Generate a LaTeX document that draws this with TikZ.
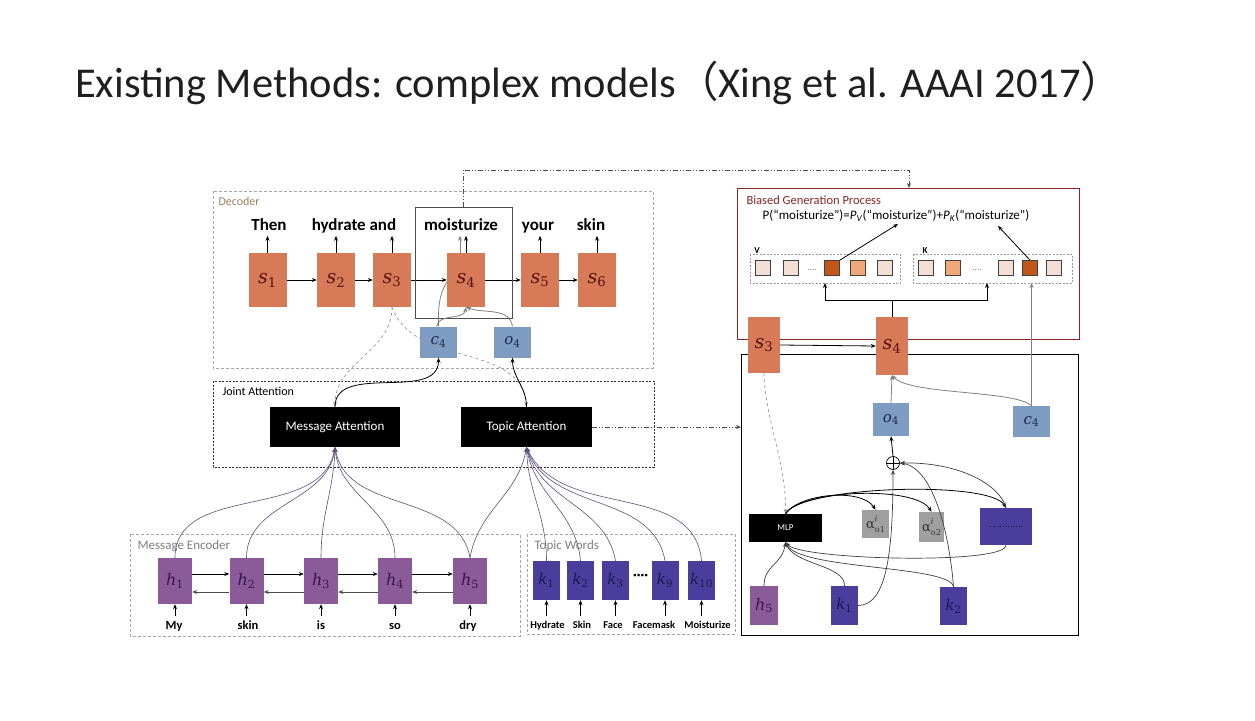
\documentclass[tikz,border=0pt]{standalone}
\usepackage{fontspec}
\setmainfont{Carlito}
\newfontfamily\cjk{Noto Sans CJK SC}
\newfontfamily\lblf{DejaVu Serif}
\newcommand{\lb}[2]{{\lblf\itshape #1}\textsubscript{\lblf #2}}
\newcommand{\alab}[1]{{\lblf α}\rlap{\raisebox{0.55em}{\lblf\itshape\fontsize{8}{8}\selectfont i}}\raisebox{-0.25em}{\lblf\fontsize{8}{8}\selectfont o#1}}
\usetikzlibrary{arrows.meta,calc}
\definecolor{orgc}{HTML}{D77A57}
\definecolor{sred}{HTML}{5A1212}
\definecolor{purc}{HTML}{8A5B98}
\definecolor{hpur}{HTML}{3A1450}
\definecolor{indc}{HTML}{4B3D9B}
\definecolor{knav}{HTML}{1A1A55}
\definecolor{bgc}{HTML}{7E9CC2}
\definecolor{cnav}{HTML}{1A2A50}
\definecolor{darkred}{HTML}{8B2525}
\definecolor{lsq}{HTML}{F3DED6}
\definecolor{msq}{HTML}{F0A878}
\definecolor{dsq}{HTML}{C0561A}
\definecolor{curvec}{HTML}{5E5080}
\begin{document}
\begin{tikzpicture}[x=1pt,y=-1pt,
  tip/.style={-{Stealth[length=5pt,width=4pt]}},
  sbox/.style={fill=orgc,inner sep=0,minimum width=38pt,minimum height=54pt,text=sred,font=\fontsize{19}{19}\selectfont},
  hbox/.style={fill=purc,inner sep=0,minimum width=34pt,minimum height=46pt,text=hpur,font=\fontsize{16}{16}\selectfont},
  kbox/.style={fill=indc,inner sep=0,minimum width=27pt,minimum height=39pt,text=knav,font=\fontsize{15}{15}\selectfont},
  cbox/.style={fill=bgc,inner sep=0,minimum width=37pt,minimum height=31pt,text=cnav,font=\fontsize{15}{15}\selectfont},
  attbox/.style={fill=black,inner sep=0,minimum width=130pt,minimum height=40pt,text=white,font=\fontsize{13}{13}\selectfont},
  dword/.style={anchor=base,font=\bfseries\fontsize{17}{17}\selectfont,text=black},
  eword/.style={anchor=base,font=\bfseries\fontsize{12.5}{12.5}\selectfont,text=black},
  tword/.style={anchor=base,inner sep=0,font=\bfseries\fontsize{10.5}{10.5}\selectfont,text=black},
  grouplbl/.style={anchor=west,font=\fontsize{13}{13}\selectfont},
  sq/.style={draw=black!75,line width=0.6pt,minimum size=15pt,inner sep=0},
  blk/.style={black,line width=0.8pt},
  gry/.style={gray,line width=0.8pt},
  cur/.style={curvec,line width=0.6pt},
  thin/.style={black!75,line width=0.7pt},
  alphabox/.style={fill=gray!75,inner sep=0,text=black!80,font=\fontsize{13}{13}\selectfont},
  ddash/.style={black!70,line width=0.7pt,dash pattern=on 5pt off 2pt on 1pt off 2pt on 1pt off 2pt}
]
\useasboundingbox (0,0) rectangle (1255,720);
\fill[white] (0,0) rectangle (1255,720);

% Title
\node[anchor=base west,inner sep=0,font=\fontsize{42.5}{42.5}\selectfont,text=black!88] (title) at (75,97)
  {Existing Methods: complex models{\cjk （}Xing et al. AAAI 2017{\cjk ）}};

% ---------------- Decoder ----------------
\draw[gray!70,line width=0.6pt,dash pattern=on 3pt off 2pt] (213,191) rectangle (653,368);
\node[grouplbl,text=brown!50!gray,font=\fontsize{12}{12}\selectfont] (declbl) at (215,201) {Decoder};

\node[sbox] (s1) at (267.5,280) {\lb{s}{1}};
\node[sbox] (s2) at (336,280) {\lb{s}{2}};
\node[sbox] (s3) at (392,280) {\lb{s}{3}};
\node[sbox] (s4) at (466,280) {\lb{s}{4}};
\node[sbox] (s5) at (540,280) {\lb{s}{5}};
\node[sbox] (s6) at (597,280) {\lb{s}{6}};

\node[dword] (w1) at (269,230) {Then};
\node[dword] (w2) at (354,230) {hydrate and};
\node[dword] (w4) at (461,230) {moisturize};
\node[dword] (w5) at (538,230) {your};
\node[dword] (w6) at (591,230) {skin};

\foreach \n in {s1,s2,s3,s5,s6}{
  \draw[blk,tip] (\n.north) -- ++(0,-17);
}
\draw[blk,tip] (s4.north) -- ++(0,-17);
\draw[gry,tip] ([xshift=-6pt]s4.north) -- ++(0,-17);

\foreach \a/\b in {s1/s2,s2/s3,s3/s4,s4/s5,s5/s6}{
  \draw[blk,tip] (\a.east) -- (\b.west);
}

\draw[black!70,line width=0.8pt] (415,207) rectangle (512,318);
\coordinate (hltop) at (463,207);

\node[cbox] (c4) at (438.5,342) {\lb{c}{4}};
\node[cbox] (o4) at (512.5,342) {\lb{o}{4}};

\draw[gry] (c4.north) to[out=90,in=-120] ([yshift=-2pt]s4.west);
\draw[gry,tip] ([xshift=-2pt]c4.north) to[out=80,in=-100] (s4.south);
\draw[gry,tip] (o4.north) to[out=100,in=-20] (s4.south);

% dash-dot to biased generation
\coordinate (bgtop) at (909,188);
\draw[ddash,tip] (hltop) -- (463,170) -- (909,170) -- (bgtop);

% ---------------- Joint attention ----------------
\draw[black!80,line width=0.6pt,dash pattern=on 2pt off 1.5pt] (213,381) rectangle (654,467);
\node[grouplbl,text=black,font=\fontsize{12}{12}\selectfont] (jalbl) at (219,391) {Joint Attention};
\node[attbox] (ma) at (335,427) {Message Attention};
\node[attbox,minimum width=131pt] (ta) at (526.5,427) {Topic Attention};

\draw[gray!80,line width=0.7pt,dashed,tip] (s3.south) to[out=-90,in=90] (ma.north);
\draw[gray!80,line width=0.7pt,dashed,tip] (s3.south) to[out=-70,in=95] (ta.north);
\draw[blk,tip] (ma.north) to[out=90,in=-90] (c4.south);
\draw[blk,tip] (ta.north) to[out=90,in=-90] (o4.south);

% ---------------- Message encoder ----------------
\draw[gray!70,line width=0.6pt,dash pattern=on 3pt off 2pt] (130,534) rectangle (520,636);
\node[grouplbl,text=gray] (melbl) at (134,546) {Message Encoder};

\node[hbox] (h1) at (175,581) {\lb{h}{1}};
\node[hbox] (h2) at (246.5,581) {\lb{h}{2}};
\node[hbox] (h3) at (321,581) {\lb{h}{3}};
\node[hbox] (h4) at (395,581) {\lb{h}{4}};
\node[hbox] (h5) at (470,581) {\lb{h}{5}};

\foreach \a/\b in {h1/h2,h2/h3,h3/h4,h4/h5}{
  \draw[blk,tip] ([yshift=7pt]\a.east) -- ([yshift=7pt]\b.west);
  \draw[black!70,line width=0.8pt,tip] ([yshift=-11pt]\b.west) -- ([yshift=-11pt]\a.east);
}

\node[eword] (e1) at (174,629) {My};
\node[eword] (e2) at (248,629) {skin};
\node[eword] (e3) at (321,629) {is};
\node[eword] (e4) at (395,629) {so};
\node[eword] (e5) at (468,629) {dry};
\foreach \w/\h in {e1/h1,e2/h2,e3/h3,e4/h4,e5/h5}{
  \draw[blk,tip] (\h.south |- 0,616) -- (\h.south);
}

\draw[cur,tip] (h1.north) to[out=90,in=-100] (ma.south);
\draw[cur,tip] (h2.north) to[out=90,in=-97] (ma.south);
\draw[cur,tip] (h3.north) to[out=90,in=-92] (ma.south);
\draw[cur,tip] (h4.north) to[out=90,in=-85] (ma.south);
\draw[cur,tip] (h5.north) to[out=100,in=-80] (ma.south);
\draw[cur,tip] (h5.north) to[out=80,in=-100] (ta.south);

% ---------------- Topic words ----------------
\draw[gray!70,line width=0.6pt,dash pattern=on 3pt off 2pt] (527,534) rectangle (735,634);
\node[grouplbl,text=gray] (twlbl) at (531,546) {Topic Words};

\node[kbox] (k1) at (546.5,580.5) {\lb{k}{1}};
\node[kbox] (k2) at (580.5,580.5) {\lb{k}{2}};
\node[kbox] (k3) at (615.5,580.5) {\lb{k}{3}};
\node[text=black,font=\fontsize{14}{14}\selectfont] (kdots) at (640.5,577) {\textbf{····}};
\node[kbox] (k9) at (665,580.5) {\lb{k}{9}};
\node[kbox] (k10) at (701.5,580.5) {\lb{k}{10}};

\node[tword] (t1) at (547.5,628) {Hydrate};
\node[tword] (t2) at (582,628) {Skin};
\node[tword] (t3) at (613,628) {Face};
\node[tword] (t9) at (654,628) {Facemask};
\node[tword] (t10) at (707.5,628) {Moisturize};
\foreach \k in {k1,k2,k3,k9,k10}{
  \draw[blk,tip] (\k.south |- 0,616) -- (\k.south);
}
\draw[cur,tip] (k1.north) to[out=90,in=-88] (ta.south);
\draw[cur,tip] (k2.north) to[out=95,in=-80] (ta.south);
\draw[cur,tip] (k3.north) to[out=100,in=-75] (ta.south);
\draw[cur,tip] (k9.north) to[out=100,in=-70] (ta.south);
\draw[cur,tip] (k10.north) to[out=95,in=-65] (ta.south);

% ---------------- Right: biased generation ----------------
\draw[darkred,line width=0.9pt] (737,188) rectangle (1079,339);
\node[grouplbl,text=darkred,font=\fontsize{12.5}{12.5}\selectfont] (bglbl) at (743,200) {Biased Generation Process};
\node[font=\fontsize{13}{13}\selectfont,text=black] (formula) at (896,216)
  {P(“moisturize”)=\textit{P}\textsubscript{\textit{V}}(“moisturize”)+\textit{P}\textsubscript{\textit{K}}(“moisturize”)};

\node[font=\bfseries\fontsize{9}{9}\selectfont] (vlbl) at (757,251) {V};
\node[font=\bfseries\fontsize{9}{9}\selectfont] (klbl) at (925,251) {K};
\draw[gray!80,line width=0.6pt,dash pattern=on 2pt off 1.5pt] (750,254) rectangle (900,283);
\draw[gray!80,line width=0.6pt,dash pattern=on 2pt off 1.5pt] (913,254) rectangle (1072,283);
\coordinate (vbot) at (825,283);
\coordinate (kbot) at (987,283);

\node[sq,fill=lsq] (v1) at (763,268) {};
\node[sq,fill=lsq] (v2) at (791,268) {};
\node[font=\fontsize{9}{9}\selectfont,text=gray] (vd) at (812,270) {....};
\node[sq,fill=dsq] (v3) at (832,268) {};
\node[sq,fill=msq] (v4) at (858,268) {};
\node[sq,fill=lsq] (v5) at (885,268) {};
\node[sq,fill=lsq] (kk1) at (926,268) {};
\node[sq,fill=msq] (kk2) at (953,268) {};
\node[font=\fontsize{9}{9}\selectfont,text=gray] (kd) at (977,270) {....};
\node[sq,fill=lsq] (kk3) at (1006,268) {};
\node[sq,fill=dsq] (kk4) at (1030,268) {};
\node[sq,fill=lsq] (kk5) at (1054,268) {};

\coordinate (pv) at (898,224);
\coordinate (pk) at (998,226);
\draw[blk,tip] (v3.north east) -- (pv);
\draw[blk,tip] (kk4.north) -- (pk);

% lower right box
\draw[black,line width=0.9pt] (741,354) rectangle (1078,635);

\node[sbox,minimum width=32pt,minimum height=56pt] (s3r) at (764,345) {\lb{s}{3}};
\node[sbox,minimum width=32pt,minimum height=58pt] (s4r) at (892,346) {\lb{s}{4}};
\draw[blk,tip] (s3r.east) -- (s4r.west);

\coordinate (split) at (892,300);
\draw[blk] (s4r.north) -- (split);
\draw[blk,tip] (split) -| (vbot);
\draw[blk,tip] (split) -| (kbot);

\node[cbox,minimum width=36pt,minimum height=33pt] (o4r) at (891,419.5) {\lb{o}{4}};
\node[cbox,minimum width=37pt,minimum height=31pt] (c4r) at (1031.5,421.5) {\lb{c}{4}};
\draw[gry,tip] (c4r.north) -- (c4r.north |- kbot);
\draw[gry,tip] (o4r.north) -- (s4r.south);
\draw[gry,tip] (c4r.north) .. controls (1015,390) and (910,395) .. (s4r.south);

\node[circle,draw=black,line width=0.7pt,inner sep=0,minimum size=13pt] (plus) at (893,463) {};
\draw[black,line width=0.7pt] (plus.north) -- (plus.south) (plus.west) -- (plus.east);
\draw[blk,tip] (plus.north) -- (o4r.south);

% dash-dot from topic attention
\coordinate (rbleft) at (741,427);
\draw[ddash,tip] (ta.east) -- (rbleft);

\node[fill=black,inner sep=0,minimum width=73pt,minimum height=28pt,text=white,font=\fontsize{9}{9}\selectfont] (mlp) at (785.5,528) {MLP};
\node[alphabox,minimum width=27pt,minimum height=28pt] (a1) at (875.5,524) {\alab{1}};
\node[alphabox,minimum width=25pt,minimum height=30pt] (a2) at (931.5,527) {\alab{2}};
\node[fill=indc,inner sep=0,minimum width=52pt,minimum height=37pt] (dbox) at (1006,526.5) {};
\draw[knav,line width=0.6pt,dotted] ([xshift=-16pt]dbox.center) -- ([xshift=16pt]dbox.center);

\node[hbox,minimum width=28pt,minimum height=39pt] (h5r) at (764,605.5) {\lb{h}{5}};
\node[kbox] (k1r) at (844.5,605.5) {\lb{k}{1}};
\node[kbox,minimum height=38pt] (k2r) at (953.5,606) {\lb{k}{2}};

\draw[gray!80,line width=0.7pt,dashed,tip] (s3r.south) .. controls (765,420) and (786,460) .. (mlp.north);
\draw[blk,tip] (mlp.north) .. controls (800,493) and (862,488) .. (a1.north);
\draw[blk,tip] (mlp.north) .. controls (800,490) and (915,485) .. (a2.north);
\draw[blk,tip] (mlp.north) .. controls (800,486) and (990,480) .. (dbox.north);
\draw[thin,tip] (dbox.north) .. controls (1000,485) and (960,462) .. (plus.east);
\draw[thin,tip] (k2r.north) .. controls (950,540) and (935,468) .. (plus.east);
\draw[thin,tip] (k1r.east) .. controls (885,605) and (893,560) .. (plus.south);

\draw[thin,tip] (h5r.north) .. controls (764,565) and (782,565) .. (mlp.south);
\draw[thin,tip] (k1r.north) .. controls (845,565) and (795,565) .. (mlp.south);
\draw[thin,tip] (k2r.north) .. controls (950,565) and (800,570) .. (mlp.south);
\draw[thin,tip] (dbox.south) .. controls (1006,565) and (800,560) .. (mlp.south);
\end{tikzpicture}
\end{document}
